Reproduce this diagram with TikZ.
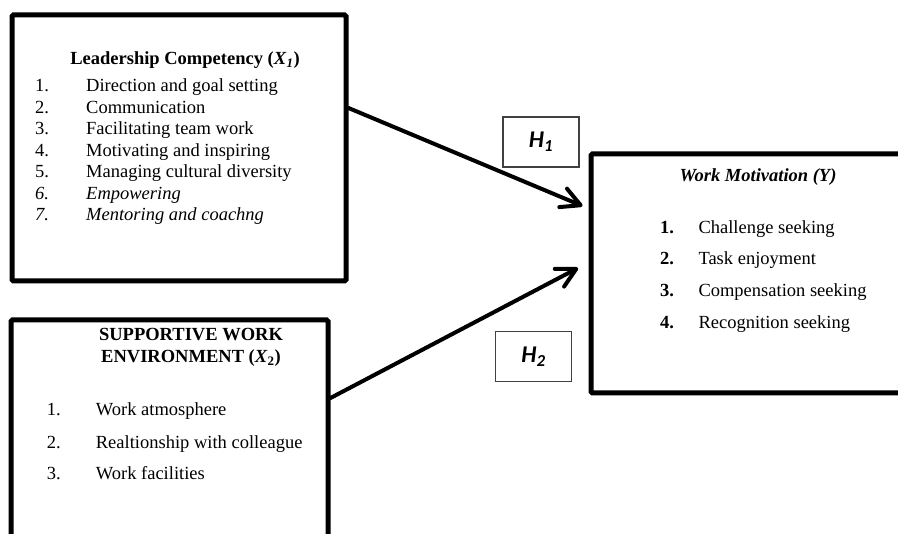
\documentclass[tikz,border=0pt]{standalone}
\usepackage{fontspec}
\setmainfont{Liberation Serif}
\newfontfamily\hfont{Carlito}
\usetikzlibrary{arrows.meta}
\begin{document}
\begin{tikzpicture}[x=1pt,y=-1pt,
  bigbox/.style={draw, line width=5pt, inner sep=0pt, rounded corners=1.5pt},
  hbox/.style={draw=black!75, line width=1.4pt, inner sep=0pt, minimum width=76pt, minimum height=50pt, font=\hfont\bfseries\itshape\fontsize{24}{28}\selectfont},
  txt/.style={anchor=base west, inner sep=0pt, font=\fontsize{18.5}{22}\selectfont},
  ttl/.style={anchor=base, inner sep=0pt, font=\fontsize{18.5}{22}\selectfont},
  link/.style={line width=4pt, line cap=round, line join=round, -{Straight Barb[length=19pt,width=20pt,line cap=round,line join=round]}}]
\useasboundingbox (0,0) rectangle (898,534);
\clip (0,0) rectangle (898,534);

% boxes
\node[bigbox, minimum width=334pt, minimum height=266pt] (lead) at (179,148) {};
\node[bigbox, minimum width=317pt, minimum height=240pt] (env) at (169.5,440) {};
\node[bigbox, minimum width=339pt, minimum height=239pt] (wm) at (760.5,273.5) {};
\node[hbox] (h1) at (541,142) {H\textsubscript{1}};
\node[hbox] (h2) at (533.5,356.5) {H\textsubscript{2}};

% box 1 text
\node[ttl] (t1) at (185,65) {\textbf{Leadership Competency (\textit{X}\textsubscript{\textit{1}})}};
\node[txt] (n11) at (35,92) {1.};    \node[txt] (i11) at (86,92) {Direction and goal setting};
\node[txt] (n12) at (35,113.5) {2.}; \node[txt] (i12) at (86,113.5) {Communication};
\node[txt] (n13) at (35,135) {3.};   \node[txt] (i13) at (86,135) {Facilitating team work};
\node[txt] (n14) at (35,156.5) {4.}; \node[txt] (i14) at (86,156.5) {Motivating and inspiring};
\node[txt] (n15) at (35,178) {5.};   \node[txt] (i15) at (86,178) {Managing cultural diversity};
\node[txt] (n16) at (35,199.5) {\textit{6.}}; \node[txt] (i16) at (86,199.5) {\textit{Empowering}};
\node[txt] (n17) at (35,221) {\textit{7.}};   \node[txt] (i17) at (86,221) {\textit{Mentoring and coachng}};

% box 2 text
\node[ttl] (t2a) at (191,340.7) {\textbf{SUPPORTIVE WORK}};
\node[ttl] (t2b) at (191,363) {\textbf{ENVIRONMENT (\textit{X}\textsubscript{2})}};
\node[txt] (n21) at (46.7,415.7) {1.}; \node[txt] (i21) at (95.7,415.7) {Work atmosphere};
\node[txt] (n22) at (46.7,448.3) {2.}; \node[txt] (i22) at (95.7,448.3) {Realtionship with colleague};
\node[txt] (n23) at (46.7,480) {3.};   \node[txt] (i23) at (95.7,480) {Work facilities};

% box 3 text
\node[ttl] (t3) at (758,182) {\textbf{\textit{Work Motivation (Y)}}};
\node[txt] (n31) at (660,233.3) {\textbf{1.}}; \node[txt] (i31) at (698.3,233.3) {Challenge seeking};
\node[txt] (n32) at (660,265) {\textbf{2.}};   \node[txt] (i32) at (698.3,265) {Task enjoyment};
\node[txt] (n33) at (660,296.7) {\textbf{3.}}; \node[txt] (i33) at (698.3,296.7) {Compensation seeking};
\node[txt] (n34) at (660,329) {\textbf{4.}};   \node[txt] (i34) at (698.3,329) {Recognition seeking};

% connectors
\draw[link] ([yshift=40pt]lead.east) -- ([shift={(-6pt,67.5pt)}]wm.west);
\draw[link] ([yshift=42pt]env.east) -- ([shift={(-10.5pt,5.5pt)}]wm.west);
\end{tikzpicture}
\end{document}
